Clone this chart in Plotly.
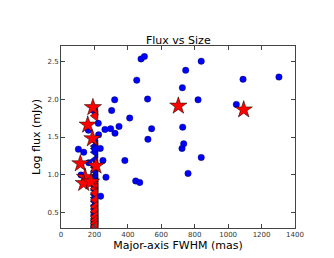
import plotly.graph_objects as go

# Resolved sources (blue circles)
blue_x = [104, 136, 166, 164, 120, 223, 225, 235, 203, 251, 237, 263, 269, 297, 303, 321, 323, 347,
          382, 411, 453, 447, 471, 479, 499, 518, 520, 542, 726, 728, 724, 734, 746, 760, 820, 839,
          839, 1049, 1089, 1304]
blue_y = [1.34, 1.30, 1.16, 1.59, 1.00, 1.68, 1.53, 1.35, 1.34, 1.19, 0.72, 1.60, 0.97, 1.61, 1.85,
          1.99, 1.55, 1.64, 1.19, 1.75, 2.25, 0.92, 0.90, 2.53, 2.56, 2.00, 1.47, 1.61, 2.15, 1.63,
          1.35, 1.41, 2.38, 1.02, 1.99, 2.50, 1.23, 1.93, 2.26, 2.29]

# Resolved sources (red stars)
star_x = [191, 160, 188, 116, 209, 144, 136, 180, 702, 1093]
star_y = [1.89, 1.66, 1.48, 1.15, 1.12, 0.97, 0.89, 0.91, 1.91, 1.86]

# Unresolved upper limits (left triangles at 200 mas)
blue_lim_x = [205] * 24
blue_lim_y = [1.83, 1.45, 1.38, 1.35, 1.30, 1.20, 1.10, 1.05, 0.98, 0.94, 0.90, 0.85, 0.80, 0.74,
              0.70, 0.65, 0.60, 0.55, 0.50, 0.47, 0.42, 0.38, 0.34, 0.31]
red_lim_x = [205] * 12
red_lim_y = [1.78, 1.12, 0.88, 0.82, 0.76, 0.67, 0.58, 0.52, 0.45, 0.40, 0.36, 0.32]

x_ticks = [0, 200, 400, 600, 800, 1000, 1200, 1400]
y_ticks = [0.5, 1.0, 1.5, 2.0, 2.5]

fig = go.Figure()
fig.add_trace(go.Scatter(x=blue_lim_x, y=blue_lim_y, mode="markers", cliponaxis=True,
                         marker=dict(symbol="triangle-left", size=10, color="#0000ff",
                                     line=dict(color="black", width=0.5))))
fig.add_trace(go.Scatter(x=red_lim_x, y=red_lim_y, mode="markers", cliponaxis=True,
                         marker=dict(symbol="triangle-left", size=10, color="#ff0000",
                                     line=dict(color="black", width=0.5))))
fig.add_trace(go.Scatter(x=blue_x, y=blue_y, mode="markers",
                         marker=dict(symbol="circle", size=6.5, color="#0000ff",
                                     line=dict(color="black", width=0.3))))
fig.add_trace(go.Scatter(x=star_x, y=star_y, mode="markers",
                         marker=dict(symbol="star", size=13, color="#ff0000",
                                     line=dict(color="black", width=0.5))))

axis_common = dict(showline=True, linecolor="#444444", linewidth=1, mirror="ticks",
                   ticks="inside", ticklen=4, tickcolor="#444444", showgrid=False,
                   zeroline=False, automargin=False,
                   tickfont=dict(size=7, color="#333333", family="DejaVu Sans"))

fig.update_layout(
    width=334, height=258,
    margin=dict(l=53, r=47, t=38, b=38, autoexpand=False),
    paper_bgcolor="white", plot_bgcolor="white",
    showlegend=False,
    title=dict(text="Flux vs Size", x=0.51, xanchor="center", y=0.875, yanchor="middle",
               font=dict(size=11, color="black", family="DejaVu Sans")),
    xaxis=dict(range=[0, 1400], tickvals=x_ticks,
               title=dict(text="Major-axis FWHM (mas)", standoff=2,
                          font=dict(size=11, color="black", family="DejaVu Sans")),
               **axis_common),
    yaxis=dict(range=[0.3, 2.7], tickvals=y_ticks, tickformat=".1f",
               title=dict(text="Log flux (mJy)", standoff=4,
                          font=dict(size=11, color="black", family="DejaVu Sans")),
               **axis_common),
)

fig.write_html("out.html")
